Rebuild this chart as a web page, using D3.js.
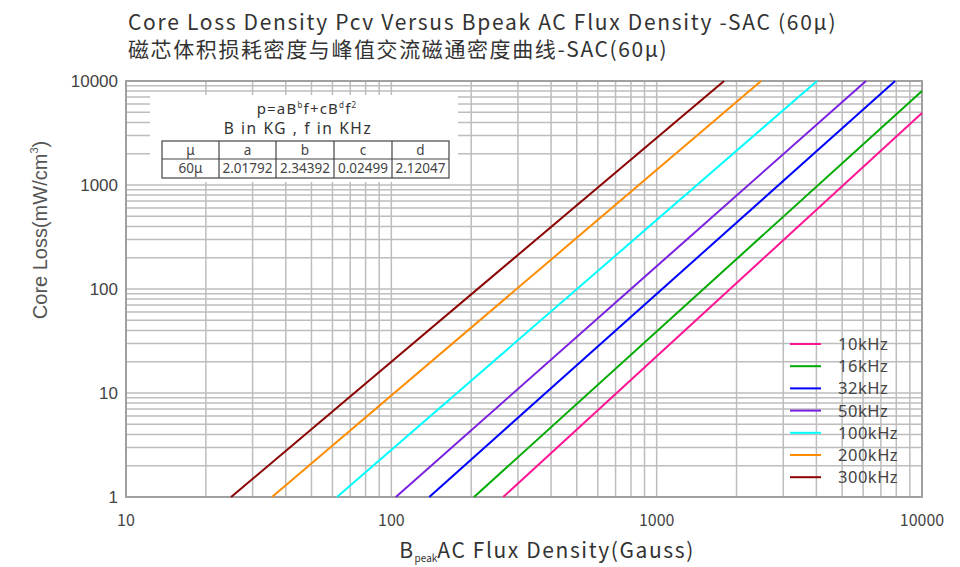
<!DOCTYPE html>
<html><head><meta charset="utf-8">
<script src="https://cdn.jsdelivr.net/npm/d3@7"></script>
<style>body{margin:0;background:#fff}svg{display:block}</style>
</head><body>
<svg id="c" width="960" height="567"></svg>
<script>
// Data: each curve is a straight line on log-log axes,
// given by its start point (on Pcv=1) and its end point (top or right edge).
const series = ["10kHz","16kHz","32kHz","50kHz","100kHz","200kHz","300kHz"];
const colors = ["#ff1493","#00aa00","#0000ff","#7a1ee0","#00ffff","#ff8c00","#8b0000"];
const startB = [264, 205, 139, 104, 62.4, 35.5, 24.9];
const startP = [1, 1, 1, 1, 1, 1, 1];
const endB   = [10000, 10000, 7920, 6150, 4020, 2475, 1795];
const endP   = [4920, 8020, 10000, 10000, 10000, 10000, 10000];
const xTicks = [10, 100, 1000, 10000];
const yTicks = [1, 10, 100, 1000, 10000];
const tableHead = ["μ","a","b","c","d"];
const tableRow  = ["60μ","2.01792","2.34392","0.02499","2.12047"];

const svg = d3.select("#c");
const L = 126, R = 922, T = 81, B = 497;
const x = d3.scaleLog().domain([10, 10000]).range([L, R]);
const y = d3.scaleLog().domain([1, 10000]).range([B, T]);

// grid
const g = svg.append("g");
const xg = [];
for (let d = 10; d < 10000; d *= 10) for (let k = 1; k <= 9; k++) xg.push(d * k);
const yg = [];
for (let d = 1; d < 10000; d *= 10) for (let k = 1; k <= 9; k++) yg.push(d * k);
g.selectAll(".gx").data(xg).join("line")
  .attr("x1", d => x(d)).attr("x2", d => x(d)).attr("y1", T).attr("y2", B)
  .attr("stroke", "#bdbdbd").attr("stroke-width", 1.5);
g.selectAll(".gy").data(yg).join("line")
  .attr("y1", d => y(d)).attr("y2", d => y(d)).attr("x1", L).attr("x2", R)
  .attr("stroke", "#bdbdbd").attr("stroke-width", 1.5);
// frame
svg.append("rect").attr("x", L).attr("y", T).attr("width", R - L).attr("height", B - T)
  .attr("fill", "none").attr("stroke", "#a0a0a0").attr("stroke-width", 2);

// formula box
const box = svg.append("g");
box.append("rect").attr("x", 150).attr("y", 95).attr("width", 308).attr("height", 87).attr("fill", "#fff");
const ft = box.append("text").attr("x", 307).attr("y", 114).attr("text-anchor", "middle")
  .attr("font-family", "Noto Sans, sans-serif").attr("font-size", 15).attr("letter-spacing", 1.2).attr("fill", "#333");
ft.append("tspan").text("p=aB");
ft.append("tspan").attr("font-size", 8).attr("dy", -6).text("b");
ft.append("tspan").attr("dy", 6).text("f+cB");
ft.append("tspan").attr("font-size", 8).attr("dy", -6).text("d");
ft.append("tspan").attr("dy", 6).text("f");
ft.append("tspan").attr("font-size", 8).attr("dy", -6).text("2");
box.append("text").attr("x", 298).attr("y", 134).attr("text-anchor", "middle")
  .attr("font-family", "Noto Sans, sans-serif").attr("font-size", 15.5).attr("letter-spacing", 1.6).attr("fill", "#333")
  .text("B in KG , f in KHz");
const colX = [162, 219, 276, 334, 392, 449];
const rowY = [141, 159, 178];
box.append("rect").attr("x", colX[0]).attr("y", rowY[0]).attr("width", colX[5]-colX[0]).attr("height", rowY[2]-rowY[0])
  .attr("fill", "none").attr("stroke", "#444").attr("stroke-width", 1.2);
box.append("line").attr("x1", colX[0]).attr("x2", colX[5]).attr("y1", rowY[1]).attr("y2", rowY[1]).attr("stroke", "#444").attr("stroke-width", 1.2);
colX.slice(1, 5).forEach(cx => box.append("line").attr("x1", cx).attr("x2", cx).attr("y1", rowY[0]).attr("y2", rowY[2]).attr("stroke", "#444").attr("stroke-width", 1.2));
[tableHead, tableRow].forEach((row, r) => row.forEach((t, i) => {
  box.append("text").attr("x", (colX[i] + colX[i+1]) / 2).attr("y", rowY[r] + 14)
    .attr("text-anchor", "middle").attr("font-family", "Noto Sans, sans-serif")
    .attr("font-size", 13.5).attr("fill", "#444").text(t);
}));

// lines
const line = d3.line().x(d => x(d[0])).y(d => y(d[1]));
series.forEach((s, i) => {
  svg.append("path").datum([[startB[i], startP[i]], [endB[i], endP[i]]])
    .attr("d", line).attr("fill", "none").attr("stroke", colors[i]).attr("stroke-width", 2);
});

// axes labels
const fmt = d => String(d);
svg.append("g").selectAll("text").data(yTicks).join("text")
  .attr("x", 118).attr("y", d => y(d) + 6).attr("text-anchor", "end")
  .attr("font-family", "Liberation Sans, Arial, sans-serif").attr("font-size", 17).attr("fill", "#444").text(fmt);
svg.append("g").selectAll("text").data(xTicks).join("text")
  .attr("x", d => x(d)).attr("y", 526).attr("text-anchor", "middle")
  .attr("font-family", "Noto Sans CJK SC, sans-serif").attr("font-size", 16).attr("fill", "#444").text(fmt);

// legend
series.forEach((s, i) => {
  const ly = 344 + i * 22.2;
  svg.append("line").attr("x1", 790).attr("x2", 821).attr("y1", ly).attr("y2", ly)
    .attr("stroke", colors[i]).attr("stroke-width", 2);
  svg.append("text").attr("x", 838).attr("y", ly + 6).attr("font-family", "Noto Sans, sans-serif")
    .attr("font-size", 16.5).attr("letter-spacing", 0.5).attr("fill", "#444").text(s);
});

// titles
svg.append("text").attr("x", 128).attr("y", 30).attr("font-family", "Noto Sans CJK SC, sans-serif")
  .attr("font-size", 21).attr("letter-spacing", 1.7).attr("fill", "#333").text("Core Loss Density Pcv Versus Bpeak AC Flux Density -SAC (60μ)");
svg.append("text").attr("x", 128).attr("y", 57).attr("font-family", "Noto Sans CJK SC, sans-serif")
  .attr("font-size", 21).attr("letter-spacing", 1.6).attr("fill", "#333").text("磁芯体积损耗密度与峰值交流磁通密度曲线-SAC(60μ)");

// y title
const yt = svg.append("text").attr("transform", "translate(47,230) rotate(-90)").attr("text-anchor", "middle")
  .attr("font-family", "Liberation Sans, Arial, sans-serif").attr("font-size", 20).attr("fill", "#555");
yt.append("tspan").text("Core Loss(mW/cm");
yt.append("tspan").attr("font-size", 11).attr("dy", -9).text("3");
yt.append("tspan").attr("dy", 9).text(")");

// x title
const xt = svg.append("text").attr("x", 547).attr("y", 558).attr("text-anchor", "middle")
  .attr("font-family", "Noto Sans CJK SC, sans-serif").attr("font-size", 21).attr("letter-spacing", 1.6).attr("fill", "#333");
xt.append("tspan").text("B");
xt.append("tspan").attr("font-size", 10).attr("letter-spacing", 0).attr("dy", 4).text("peak");
xt.append("tspan").attr("dy", -4).text("AC Flux Density(Gauss)");
</script>
</body></html>
